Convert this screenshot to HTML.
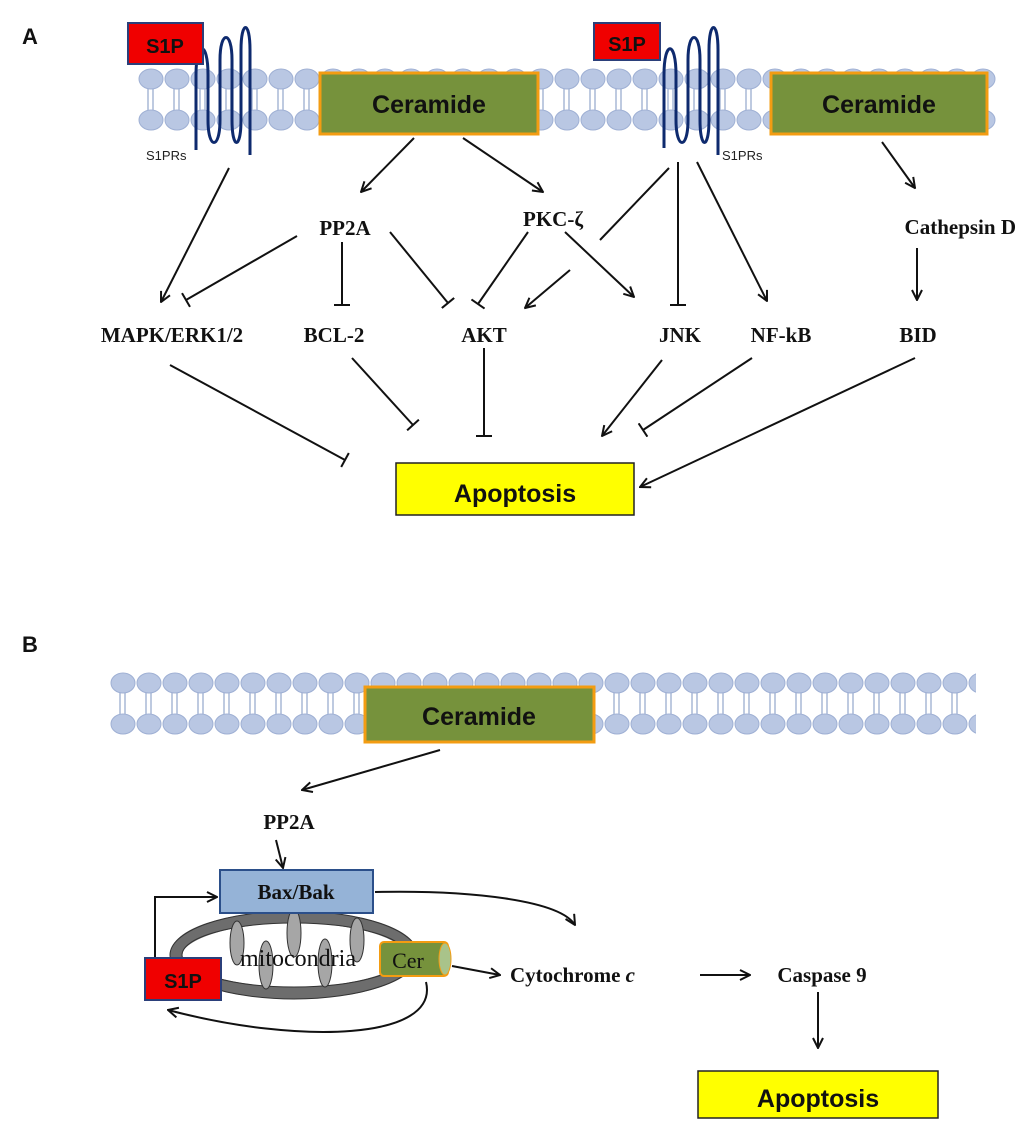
<!DOCTYPE html>
<html><head><meta charset="utf-8"><style>
body{margin:0;background:#fff}
svg{display:block}
.t{font-family:"Liberation Serif",serif;font-weight:bold;font-size:21px;fill:#111}
.c{font-family:"Liberation Sans",sans-serif;font-weight:bold;fill:#111}
.l{stroke:#111;stroke-width:2;fill:none}
</style></head><body>
<svg width="1024" height="1124" viewBox="0 0 1024 1124">
<defs>
<marker id="a" viewBox="0 0 12 12" refX="11" refY="6" markerWidth="12" markerHeight="12" markerUnits="userSpaceOnUse" orient="auto"><path d="M1,1 L11,6 L1,11" fill="none" stroke="#111" stroke-width="2"/></marker>
<marker id="b" viewBox="0 0 4 16" refX="2" refY="8" markerWidth="4" markerHeight="16" markerUnits="userSpaceOnUse" orient="auto"><path d="M2,0 L2,16" stroke="#111" stroke-width="2"/></marker>
<g id="unit">
<line x1="10" y1="18" x2="10" y2="46" stroke="#a9b8d6" stroke-width="1.5"/><line x1="15" y1="18" x2="15" y2="46" stroke="#a9b8d6" stroke-width="1.5"/>
<ellipse cx="13" cy="11" rx="12" ry="10" fill="#b9c7e3" stroke="#9fb0d4"/>
<ellipse cx="13" cy="52" rx="12" ry="10" fill="#b9c7e3" stroke="#9fb0d4"/>
</g>
<pattern id="m1" x="138" y="68" width="26" height="64" patternUnits="userSpaceOnUse"><use href="#unit"/></pattern>
<pattern id="m2" x="110" y="672" width="26" height="64" patternUnits="userSpaceOnUse"><use href="#unit"/></pattern>
</defs>
<text x="22" y="44" class="c" font-size="22">A</text>
<text x="22" y="652" class="c" font-size="22">B</text>
<rect x="138" y="68" width="858" height="64" fill="url(#m1)"/>
<rect x="110" y="672" width="866" height="64" fill="url(#m2)"/>
<!-- receptors -->
<g fill="none" stroke="#0e2a6e" stroke-width="3">
<path d="M196,150 L196,75 C196,40 208,40 208,75 L208,120 C208,150 220,150 220,120 L220,60 C220,30 232,30 232,60 L232,120 C232,150 241,150 241,120 L241,50 C241,20 250,20 250,50 L250,155"/>
<path d="M664,148 L664,75 C664,40 676,40 676,75 L676,120 C676,150 688,150 688,120 L688,60 C688,30 700,30 700,60 L700,120 C700,150 709,150 709,120 L709,50 C709,20 718,20 718,50 L718,155"/>
</g>
<rect x="128" y="23" width="75" height="41" fill="#f00000" stroke="#2b3f7a" stroke-width="2"/>
<text x="165" y="53" class="c" font-size="20" text-anchor="middle">S1P</text>
<rect x="594" y="23" width="66" height="37" fill="#f00000" stroke="#2b3f7a" stroke-width="2"/>
<text x="627" y="51" class="c" font-size="20" text-anchor="middle">S1P</text>
<text x="146" y="160" font-family="Liberation Sans,sans-serif" font-size="13" fill="#222">S1PRs</text>
<text x="722" y="160" font-family="Liberation Sans,sans-serif" font-size="13" fill="#222">S1PRs</text>
<rect x="320" y="73" width="218" height="61" fill="#76923c" stroke="#f39c12" stroke-width="3"/>
<text x="429" y="113" class="c" font-size="25" text-anchor="middle">Ceramide</text>
<rect x="771" y="73" width="216" height="61" fill="#76923c" stroke="#f39c12" stroke-width="3"/>
<text x="879" y="113" class="c" font-size="25" text-anchor="middle">Ceramide</text>
<!-- labels A -->
<text x="345" y="235" class="t" text-anchor="middle">PP2A</text>
<text x="553" y="226" class="t" text-anchor="middle">PKC-ζ</text>
<text x="1016" y="234" class="t" text-anchor="end">Cathepsin D</text>
<text x="172" y="342" class="t" text-anchor="middle">MAPK/ERK1/2</text>
<text x="334" y="342" class="t" text-anchor="middle">BCL-2</text>
<text x="484" y="342" class="t" text-anchor="middle">AKT</text>
<text x="680" y="342" class="t" text-anchor="middle">JNK</text>
<text x="781" y="342" class="t" text-anchor="middle">NF-kB</text>
<text x="918" y="342" class="t" text-anchor="middle">BID</text>
<rect x="396" y="463" width="238" height="52" fill="#ffff00" stroke="#222" stroke-width="1.5"/>
<text x="515" y="502" class="c" font-size="25" text-anchor="middle">Apoptosis</text>
<!-- connectors A -->
<path class="l" marker-end="url(#a)" d="M414,138 L361,192"/>
<path class="l" marker-end="url(#a)" d="M463,138 L543,192"/>
<path class="l" marker-end="url(#a)" d="M229,168 L161,302"/>
<path class="l" marker-end="url(#b)" d="M297,236 L186,300"/>
<path class="l" marker-end="url(#b)" d="M342,242 L342,305"/>
<path class="l" marker-end="url(#b)" d="M390,232 L448,303"/>
<path class="l" marker-end="url(#b)" d="M528,232 L478,304"/>
<path class="l" marker-end="url(#a)" d="M565,232 L634,297"/>
<path class="l" d="M669,168 L600,240"/>
<path class="l" marker-end="url(#a)" d="M570,270 L525,308"/>
<path class="l" marker-end="url(#b)" d="M678,162 L678,305"/>
<path class="l" marker-end="url(#a)" d="M697,162 L767,301"/>
<path class="l" marker-end="url(#a)" d="M882,142 L915,188"/>
<path class="l" marker-end="url(#a)" d="M917,248 L917,300"/>
<path class="l" marker-end="url(#b)" d="M170,365 L345,460"/>
<path class="l" marker-end="url(#b)" d="M352,358 L413,425"/>
<path class="l" marker-end="url(#b)" d="M484,348 L484,436"/>
<path class="l" marker-end="url(#a)" d="M662,360 L602,436"/>
<path class="l" marker-end="url(#b)" d="M752,358 L643,430"/>
<path class="l" marker-end="url(#a)" d="M915,358 L640,487"/>
<!-- B -->
<rect x="365" y="687" width="229" height="55" fill="#76923c" stroke="#f39c12" stroke-width="3"/>
<text x="479" y="725" class="c" font-size="25" text-anchor="middle">Ceramide</text>
<path class="l" marker-end="url(#a)" d="M440,750 L302,790"/>
<text x="289" y="829" class="t" text-anchor="middle">PP2A</text>
<path class="l" marker-end="url(#a)" d="M276,840 L283,868"/>
<ellipse cx="294" cy="955" rx="118" ry="38" fill="none" stroke="#6d6d6d" stroke-width="12"/>
<ellipse cx="294" cy="955" rx="124" ry="44" fill="none" stroke="#333" stroke-width="1"/>
<ellipse cx="294" cy="955" rx="112" ry="32" fill="none" stroke="#333" stroke-width="1"/>
<g fill="#a6a6a6" stroke="#333">
<ellipse cx="237" cy="943" rx="7" ry="22"/><ellipse cx="266" cy="965" rx="7" ry="24"/><ellipse cx="294" cy="933" rx="7" ry="24"/><ellipse cx="325" cy="963" rx="7" ry="24"/><ellipse cx="357" cy="940" rx="7" ry="22"/>
</g>
<text x="298" y="966" font-family="Liberation Serif,serif" font-size="24" fill="#111" text-anchor="middle">mitocondria</text>
<rect x="220" y="870" width="153" height="43" fill="#95b3d7" stroke="#2b4f8a" stroke-width="2"/>
<text x="296" y="899" class="t" font-size="18" text-anchor="middle">Bax/Bak</text>
<path class="l" marker-end="url(#a)" d="M155,958 L155,897 L217,897"/>
<rect x="380" y="942" width="68" height="34" rx="4" fill="#76923c" stroke="#f39c12" stroke-width="2"/>
<ellipse cx="445" cy="959" rx="6" ry="16" fill="#a9c38a" stroke="#f39c12"/>
<text x="408" y="968" font-family="Liberation Serif,serif" font-size="22" fill="#111" text-anchor="middle">Cer</text>
<rect x="145" y="958" width="76" height="42" fill="#f00000" stroke="#2b3f7a" stroke-width="2"/>
<text x="183" y="988" class="c" font-size="20" text-anchor="middle">S1P</text>
<path class="l" marker-end="url(#a)" d="M426,982 C440,1040 300,1045 168,1010"/>
<path class="l" marker-end="url(#a)" d="M375,892 C470,890 560,900 575,925"/>
<path class="l" marker-end="url(#a)" d="M452,966 L500,975"/>
<text x="510" y="982" class="t">Cytochrome <tspan font-style="italic">c</tspan></text>
<path class="l" marker-end="url(#a)" d="M700,975 L750,975"/>
<text x="822" y="982" class="t" text-anchor="middle">Caspase 9</text>
<path class="l" marker-end="url(#a)" d="M818,992 L818,1048"/>
<rect x="698" y="1071" width="240" height="47" fill="#ffff00" stroke="#222" stroke-width="1.5"/>
<text x="818" y="1107" class="c" font-size="25" text-anchor="middle">Apoptosis</text>
</svg>
</body></html>
